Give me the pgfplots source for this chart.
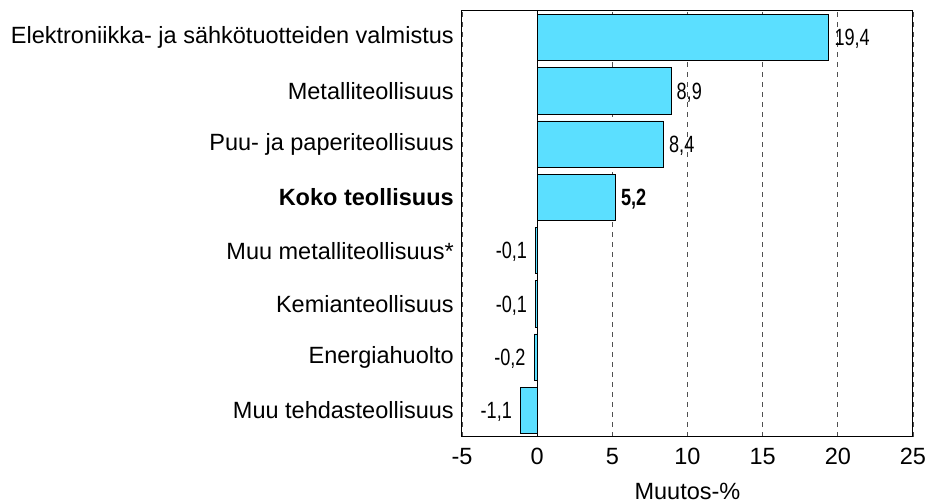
\documentclass[border=0pt]{standalone}
\usepackage{pgfplots}
\pgfplotsset{compat=1.18}
\usepackage{graphicx}
\usepackage{fontspec}
\setmainfont{Liberation Sans}
\definecolor{barcyan}{RGB}{91,223,255}
\definecolor{gridgray}{RGB}{80,80,80}
\begin{document}
\begin{tikzpicture}
\begin{axis}[
  scale only axis,
  width=451bp, height=426bp,
  xmin=-5, xmax=25, ymin=-0.5, ymax=7.5,
  xtick={-5,0,5,10,15,20,25},
  ytick={0,1,2,3,4,5,6,7},
  yticklabels={Muu tehdasteollisuus, Energiahuolto, Kemianteollisuus, Muu metalliteollisuus*, \textbf{Koko teollisuus}, Puu- ja paperiteollisuus, Metalliteollisuus, Elektroniikka- ja sähkötuotteiden valmistus},
  tick style={draw=none},
  /pgf/number format/assume math mode=true,
  font=\fontsize{23.5bp}{28bp}\selectfont,
  tick label style={font=\fontsize{23.5bp}{28bp}\selectfont},
  label style={font=\fontsize{23.5bp}{28bp}\selectfont},
  yticklabel style={xshift=-0.5bp},
  xticklabel style={yshift=-8bp},
  xlabel={Muutos-\%},
  xlabel style={yshift=-11bp},
  xmajorgrids,
  grid style={gridgray, dash pattern=on 5bp off 5bp, line width=0.8bp},
  axis line style={line width=1bp},
  xbar, bar width=0.87, bar shift=0pt,
  point meta=explicit symbolic,
  nodes near coords={\scalebox{0.77}[1]{\pgfplotspointmeta}},
  nodes near coords align={horizontal},
  every node near coord/.append style={font=\fontsize{23.5bp}{28bp}\selectfont, text=black, yshift=-1.5bp},
]
\draw[black, line width=1bp] (axis cs:0,-0.5) -- (axis cs:0,7.5);
\addplot[draw=black, fill=barcyan, line width=0.8bp, every node near coord/.append style={anchor=west, xshift=2bp}] coordinates {
  (19.4,7) [19,4]
  (8.9,6) [8,9]
  (8.4,5) [8,4]
};
\addplot[draw=black, fill=barcyan, line width=0.8bp, nodes near coords={\scalebox{0.77}[1]{\textbf{\pgfplotspointmeta}}}, every node near coord/.append style={anchor=west, xshift=2bp}] coordinates {
  (5.2,4) [5,2]
};
\addplot[draw=black, fill=barcyan, line width=0.8bp, every node near coord/.append style={anchor=east, xshift=-5bp}] coordinates {
  (-0.1,3) [-0,1]
  (-0.1,2) [-0,1]
  (-0.2,1) [-0,2]
  (-1.1,0) [-1,1]
};
\end{axis}
\pgfresetboundingbox
\path (current axis.north west) ++(-462bp,11bp) coordinate (bbtl);
\path (bbtl) rectangle ++(931bp,-503bp);
\end{tikzpicture}
\end{document}
